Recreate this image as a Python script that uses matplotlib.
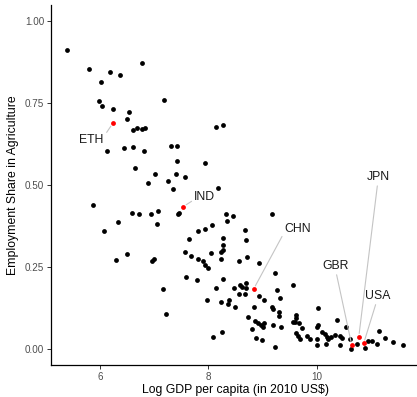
import numpy as np
import matplotlib
matplotlib.use("Agg")
import matplotlib.pyplot as plt

plt.rcParams['font.family'] = ['Liberation Sans', 'DejaVu Sans']

# log GDP per capita (2010 US$) and agriculture employment share, all countries
log_gdp = [5.40, 5.80, 6.18, 6.38, 6.02, 6.78, 5.98, 6.04, 6.25, 6.54, 6.50, 7.18,
           6.61, 6.68, 6.77, 6.84, 8.15, 8.28, 6.13, 6.44, 6.62, 6.81, 7.32, 7.42,
           7.42, 7.94, 6.65, 7.01, 7.40, 7.57, 6.89, 7.26, 7.36, 8.19, 5.87,
           6.60, 6.73, 6.94, 7.08, 7.45, 7.46, 8.33, 8.45, 8.35, 6.34, 7.05, 6.07,
           7.81, 7.94, 8.08, 8.28, 8.28, 7.65, 7.57, 7.68, 7.81, 7.90, 7.94, 8.00,
           8.05, 8.24, 8.27, 8.24, 6.50, 6.29, 6.97, 7.00, 7.59, 7.79, 8.28, 7.16,
           8.14, 7.98, 8.24, 8.37, 8.39, 7.22, 8.09, 8.25, 9.17, 8.68, 8.69, 8.72,
           8.56, 8.93, 9.23, 8.47, 8.58, 8.63, 8.69, 8.70, 8.57, 8.68, 9.27, 9.56,
           8.94, 9.03, 9.32, 8.49, 8.84, 9.17, 9.20, 9.31, 9.31, 8.74, 8.86, 8.92,
           8.98, 9.03, 9.01, 9.20, 9.34, 8.81, 8.88, 9.00, 9.23, 10.03, 9.63, 9.63,
           9.60, 9.57, 9.67, 9.74, 9.62, 9.66, 9.69, 9.82, 9.88, 10.00, 10.03, 10.00,
           10.01, 10.11, 10.16, 10.19, 10.21, 10.26, 10.34, 10.43, 10.47, 10.17,
           10.43, 10.38, 10.54, 10.61, 10.63, 10.74, 10.89, 10.95, 11.02, 11.11,
           11.16, 11.26, 11.41, 11.60]
ag_share = [0.912, 0.855, 0.845, 0.835, 0.813, 0.871, 0.757, 0.741, 0.732, 0.722,
            0.702, 0.760, 0.668, 0.675, 0.671, 0.673, 0.677, 0.682, 0.605, 0.612,
            0.615, 0.604, 0.619, 0.619, 0.573, 0.566, 0.551, 0.535, 0.533, 0.524,
            0.506, 0.512, 0.488, 0.491, 0.439, 0.414, 0.413, 0.411, 0.422, 0.411,
            0.416, 0.412, 0.406, 0.391, 0.388, 0.381, 0.359, 0.361, 0.366, 0.377,
            0.339, 0.317, 0.336, 0.297, 0.284, 0.274, 0.268, 0.256, 0.248, 0.293,
            0.297, 0.303, 0.274, 0.290, 0.271, 0.268, 0.273, 0.219, 0.210, 0.214,
            0.184, 0.187, 0.150, 0.143, 0.137, 0.149, 0.108, 0.038, 0.051, 0.413,
            0.363, 0.332, 0.282, 0.269, 0.261, 0.231, 0.185, 0.195, 0.190, 0.200,
            0.187, 0.167, 0.168, 0.180, 0.195, 0.163, 0.149, 0.154, 0.129, 0.127,
            0.129, 0.121, 0.112, 0.102, 0.098, 0.085, 0.080, 0.073, 0.078, 0.067,
            0.073, 0.067, 0.061, 0.033, 0.027, 0.005, 0.124, 0.105, 0.096, 0.082,
            0.081, 0.079, 0.063, 0.049, 0.039, 0.029, 0.039, 0.030, 0.066, 0.072,
            0.029, 0.011, 0.051, 0.046, 0.038, 0.029, 0.038, 0.043, 0.041, 0.035,
            0.015, 0.012, 0.089, 0.066, 0.031, 0.001, 0.014, 0.002, 0.024, 0.025,
            0.014, 0.056, 0.034, 0.021, 0.012]

# highlighted countries
hl_codes = ["ETH", "IND", "CHN", "GBR", "JPN", "USA"]
hl_gdp = [6.24, 7.54, 8.84, 10.65, 10.78, 10.87]
hl_share = [0.688, 0.434, 0.183, 0.012, 0.037, 0.017]

# where the repelled labels sit (x, y, relpos of segment start)
label_pos = {
    "ETH": (5.85, 0.637, (1.0, 0.8)),
    "IND": (7.94, 0.463, (0.0, 0.3)),
    "CHN": (9.66, 0.366, (0.0, 0.3)),
    "GBR": (10.36, 0.253, (0.5, 0.0)),
    "JPN": (11.15, 0.524, (0.45, 0.0)),
    "USA": (11.13, 0.162, (0.45, 0.0)),
}

fig = plt.figure(figsize=(4.17, 3.97), dpi=100)
ax = fig.add_axes([50.5 / 417, 1 - 365.4 / 397, 369.5 / 417, 360.8 / 397])

ax.scatter(log_gdp, ag_share, s=12, color="black", linewidths=0, zorder=3)
ax.scatter(hl_gdp, hl_share, s=12, color="red", linewidths=0, zorder=4)

for code, gx, gy in zip(hl_codes, hl_gdp, hl_share):
    lx, ly, rp = label_pos[code]
    ax.annotate(code, xy=(gx, gy), xytext=(lx, ly), ha="center", va="center",
                fontsize=8.8, color="#1a1a1a",
                arrowprops=dict(arrowstyle="-", color="#c4c4c4", lw=0.8,
                                relpos=rp, shrinkA=0, shrinkB=2.5),
                zorder=5)

all_x = log_gdp + hl_gdp
lo, hi = min(all_x), max(all_x)
pad = 0.05 * (hi - lo)
ax.set_xlim(lo - pad, hi + pad)
ax.set_ylim(-0.05, 1.05)
ax.set_xticks([6, 8, 10])
ax.set_yticks([0, 0.25, 0.5, 0.75, 1.0])
ax.set_yticklabels(["0.00", "0.25", "0.50", "0.75", "1.00"])

for side in ["top", "right"]:
    ax.spines[side].set_visible(False)
for side in ["left", "bottom"]:
    ax.spines[side].set_linewidth(0.9)
    ax.spines[side].set_color("black")

ax.tick_params(axis="both", length=2.7, width=0.7, color="#333333",
               labelcolor="#4d4d4d", labelsize=7.1, pad=1.8)

ax.set_xlabel("Log GDP per capita (in 2010 US$)", fontsize=8.8, labelpad=1.5)
ax.set_ylabel("Employment Share in Agriculture", fontsize=8.8, labelpad=4)

fig.savefig("out.png", dpi=100)
